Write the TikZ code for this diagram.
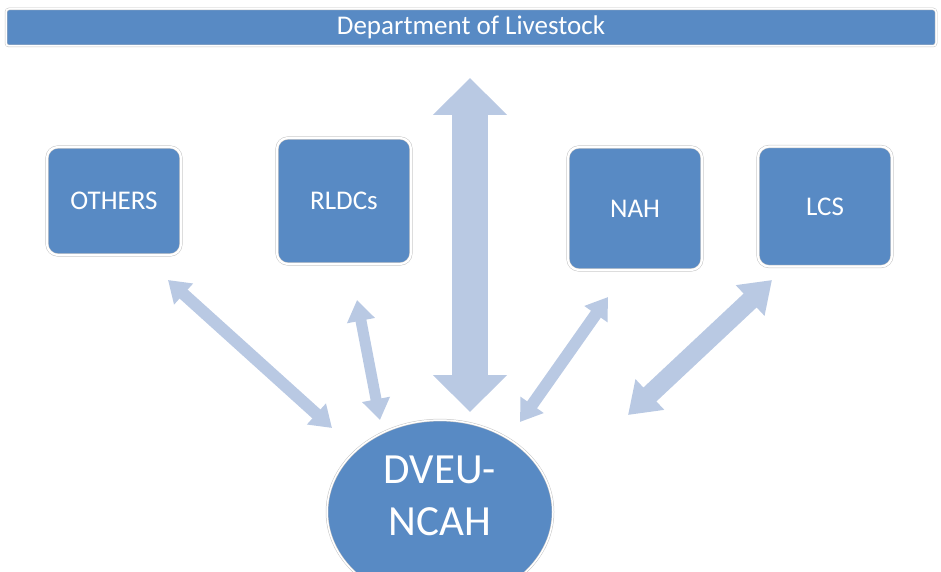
\documentclass[tikz,border=0pt]{standalone}
\usepackage{fontspec}
\setmainfont{Carlito}
\usetikzlibrary{arrows.meta, positioning, shapes.geometric}
\definecolor{mblue}{HTML}{588AC4}
\definecolor{mlink}{HTML}{B9C9E3}
\definecolor{medge}{HTML}{C4C4C4}
\tikzset{
  ubox/.style={draw=medge, double=white, double distance=2.2pt, line width=0.5pt,
               fill=mblue, rounded corners=11pt, text=white,
               minimum width=134pt, minimum height=106pt, font=\fontsize{27}{32}\selectfont},
  barbox/.style={draw=medge, double=white, double distance=1.5pt, line width=0.5pt,
                 fill=mblue, rounded corners=3pt, text=white,
                 minimum width=930pt, minimum height=37pt, font=\fontsize{27}{32}\selectfont},
  hub/.style={ellipse, draw=medge, double=white, double distance=1.5pt, line width=0.5pt,
              fill=mblue, text=white, minimum width=226pt, minimum height=182pt,
              inner sep=0pt, font=\fontsize{43}{52}\selectfont},
  link/.style={mlink, line width=12pt,
               {Triangle[width=27pt, length=21pt]}-{Triangle[width=27pt, length=21pt]}},
}
\begin{document}
\begin{tikzpicture}[x=1pt, y=-1pt]
  \useasboundingbox (0,0) rectangle (941,572);

  % the department bar
  \node[barbox] (dept) at (471,27.5) {Department of Livestock};

  % units
  \node[ubox, minimum height=108pt] (others) at (114,201) {OTHERS};
  \node[ubox, minimum height=126pt] (rldc) at (344,201) {RLDCs};
  \node[ubox, minimum height=123pt] (nah) at (635,208.5) {NAH};
  \node[ubox, minimum height=120pt] (lcs) at (825,206.5) {LCS};

  % the hub
  \node[hub] (dveu) at (440,512)
    {\begin{tabular}{@{}c@{}}DVEU-\\NCAH\\[26pt]\end{tabular}};

  % arrow ends
  \coordinate (deptend) at (470,78);
  \coordinate (hubtop) at (470,412);
  \coordinate (othersend) at (168,280);
  \coordinate (othershub) at (332,428);
  \coordinate (rldcend) at (357,300);
  \coordinate (rldchub) at (380,420);
  \coordinate (nahend) at (608,297);
  \coordinate (nahhub) at (520,422);
  \coordinate (lcsend) at (772,280);
  \coordinate (lcshub) at (628,415);

  \draw[link, line width=36pt, {Triangle[width=72pt, length=37pt]}-{Triangle[width=72pt, length=37pt]}]
    (deptend) -- (hubtop);
  \draw[link] (othersend) -- (othershub);
  \draw[link, line width=11pt] (rldcend) -- (rldchub);
  \draw[link] (nahend) -- (nahhub);
  \draw[link, line width=19pt, {Triangle[width=40pt, length=30pt]}-{Triangle[width=40pt, length=30pt]}]
    (lcsend) -- (lcshub);
\end{tikzpicture}
\end{document}
